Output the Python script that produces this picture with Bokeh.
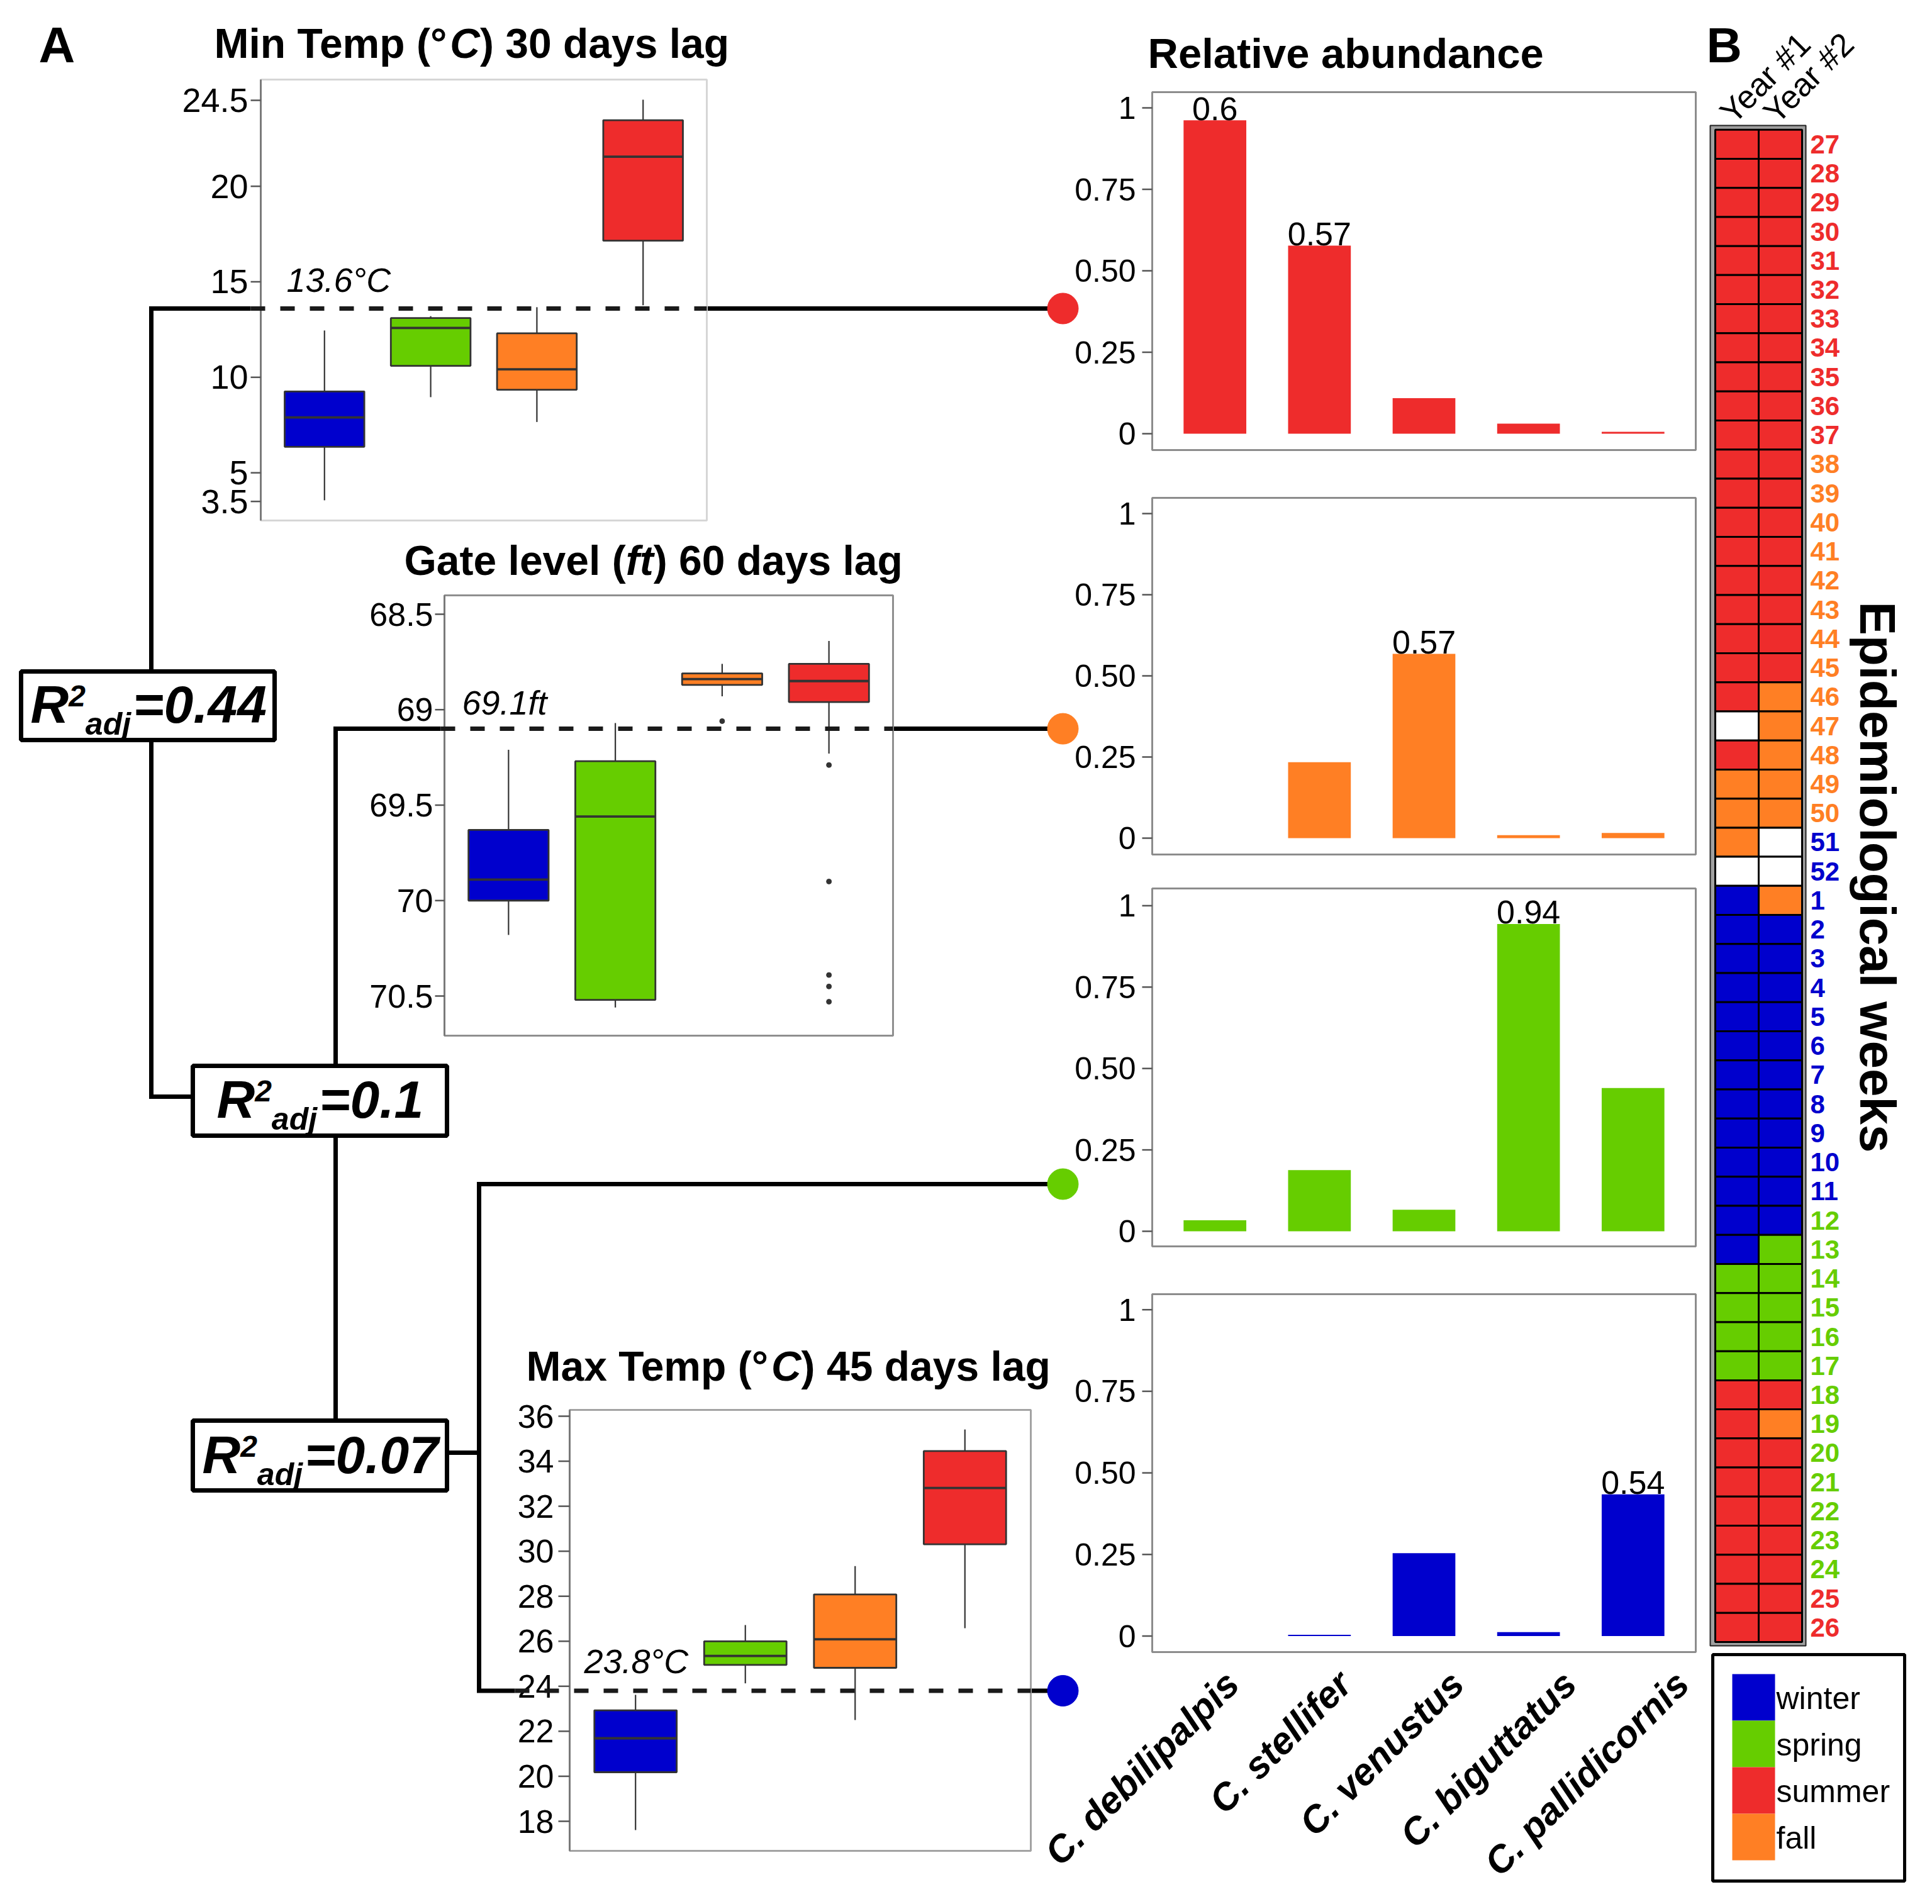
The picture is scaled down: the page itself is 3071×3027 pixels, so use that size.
import math
from bokeh.plotting import figure
from bokeh.models import Range1d
from bokeh.core.properties import value
from bokeh.embed import file_html
from bokeh.resources import INLINE

# ------------------------------------------------------------------ data
seasons = ["winter", "spring", "summer", "fall"]
season_colors = {"winter": "#0000CD", "spring": "#66CD00", "summer": "#EE2C2C",
                 "fall": "#FF7F24", "none": "#FFFFFF"}

box_seasons = ["winter", "spring", "fall", "summer"]
box_cats = [1, 2, 3, 4]

# Min Temp (C) 30 days lag
mint_low = [3.56, 8.96, 7.66, 13.77]
mint_q1 = [6.36, 10.6, 9.35, 17.15]
mint_med = [7.9, 12.58, 10.42, 21.55]
mint_q3 = [9.26, 13.1, 12.3, 23.46]
mint_up = [12.45, 13.2, 13.67, 24.53]
mint_ticks = [3.5, 5, 10, 15, 20, 24.5]
mint_tick_labels = ["3.5", "5", "10", "15", "20", "24.5"]
mint_split = 13.6

# Gate level (ft) 60 days lag (axis reversed)
gate_min = [69.21, 69.07, 68.76, 68.64]
gate_q1 = [69.63, 69.27, 68.81, 68.76]
gate_med = [69.89, 69.56, 68.84, 68.85]
gate_q3 = [70.0, 70.52, 68.87, 68.96]
gate_max = [70.18, 70.56, 68.93, 69.23]
gate_out_cat = [3, 4, 4, 4, 4, 4]
gate_out_val = [69.06, 69.29, 69.9, 70.39, 70.45, 70.53]
gate_ticks = [68.5, 69, 69.5, 70, 70.5]
gate_tick_labels = ["68.5", "69", "69.5", "70", "70.5"]
gate_split = 69.1

# Max Temp (C) 45 days lag
maxt_low = [17.61, 24.13, 22.5, 26.58]
maxt_q1 = [20.18, 24.95, 24.82, 30.31]
maxt_med = [21.69, 25.35, 26.09, 32.81]
maxt_q3 = [22.93, 26.0, 28.08, 34.45]
maxt_up = [23.62, 26.72, 29.34, 35.41]
maxt_ticks = [18, 20, 22, 24, 26, 28, 30, 32, 34, 36]
maxt_tick_labels = [str(t) for t in maxt_ticks]
maxt_split = 23.8

r2_values = ["0.44", "0.1", "0.07"]

# Relative abundance
species = ["C. debilipalpis", "C. stellifer", "C. venustus", "C. biguttatus", "C. pallidicornis"]
species_pos = [1, 2, 3, 4, 5]
abund_summer = [0.962, 0.577, 0.109, 0.031, 0.006]
abund_fall = [0.0, 0.234, 0.568, 0.009, 0.016]
abund_spring = [0.034, 0.188, 0.066, 0.944, 0.44]
abund_winter = [0.0, 0.004, 0.254, 0.012, 0.434]
abund_panel_season = ["summer", "fall", "spring", "winter"]
abund_ticks = [0, 0.25, 0.5, 0.75, 1]
abund_tick_labels = ["0", "0.25", "0.50", "0.75", "1"]
top_label_text = ["0.6", "0.57", "0.57", "0.94", "0.54"]
top_label_cat = [1, 2, 3, 4, 5]
top_label_panel = [0, 0, 1, 2, 3]

# Epidemiological weeks heatmap
years = ["Year #1", "Year #2"]
weeks = list(range(27, 53)) + list(range(1, 27))
week_label_season = (["summer"] * 11 + ["fall"] * 13 + ["winter"] * 2 +
                     ["winter"] * 11 + ["spring"] * 13 + ["summer"] * 2)
year1 = (["summer"] * 20 + ["none"] + ["summer"] + ["fall"] * 3 + ["none"] +
         ["winter"] * 13 + ["spring"] * 4 + ["summer"] * 9)
year2 = (["summer"] * 19 + ["fall"] * 5 + ["none"] * 2 + ["fall"] +
         ["winter"] * 11 + ["spring"] * 5 + ["summer"] + ["fall"] + ["summer"] * 7)

# ------------------------------------------------------------------ layout
FW, FH = 3055, 3011                 # figure size in screen px
X0, Y0 = 0, 0                       # canvas units == screenshot px
X1, Y1 = X0 + FW, Y0 + FH
FONT = "Liberation Sans"
MID = 0.36                          # baseline -> middle offset (em)

def lin(p0, p1, v0, v1):
    s = (v1 - v0) / (p1 - p0)
    return (lambda q: v0 + (q - p0) * s), (lambda v: p0 + (v - v0) / s)

def xrange_(p0, p1, v0, v1):
    f, _ = lin(p0, p1, v0, v1)
    return Range1d(start=f(X0), end=f(X1))

def yrange_(p0, p1, v0, v1):
    f, _ = lin(p0, p1, v0, v1)
    return Range1d(start=f(Y1), end=f(Y0))

p = figure(width=FW, height=FH, x_range=Range1d(X0, X1), y_range=Range1d(Y1, Y0),
           output_backend="svg", toolbar_location=None, min_border=0,
           x_axis_location=None, y_axis_location=None, outline_line_color=None,
           background_fill_color="white", border_fill_color="white")
p.grid.visible = False

# panel geometry (screen px)
MT = dict(x=(414, 1123), y=(126, 827), xv=(0.4, 4.6), yp=(159, 796.7), yv=(24.5, 3.5))
GL = dict(x=(706, 1419), y=(946, 1646), xv=(0.4, 4.6), yp=(976, 1583), yv=(68.5, 70.5))
XT = dict(x=(905, 1638), y=(2241, 2942), xv=(0.4, 4.6), yp=(2251, 2895), yv=(36, 18))
BX = (1831, 2695)
BARS = [dict(y=(146, 715), yp=(171, 689)), dict(y=(791, 1358), yp=(816, 1332)),
        dict(y=(1412, 1981), yp=(1439.4, 1957)), dict(y=(2057, 2626), yp=(2081.7, 2600.5))]
HM_X = (2760.5, 2829.5)
HM_Y = (228.8, 2586.9)

p.extra_x_ranges = {
    "mt": xrange_(MT["x"][0], MT["x"][1], *MT["xv"]),
    "gl": xrange_(GL["x"][0], GL["x"][1], *GL["xv"]),
    "xt": xrange_(XT["x"][0], XT["x"][1], *XT["xv"]),
    "bar": xrange_(BX[0], BX[1], 0.4, 5.6),
    "hm": xrange_(HM_X[0], HM_X[1], 1, 2),
}
p.extra_y_ranges = {
    "mt": yrange_(MT["yp"][0], MT["yp"][1], *MT["yv"]),
    "gl": yrange_(GL["yp"][0], GL["yp"][1], *GL["yv"]),
    "xt": yrange_(XT["yp"][0], XT["yp"][1], *XT["yv"]),
    "hm": yrange_(HM_Y[0], HM_Y[1], 0, 51),
}
for i, b in enumerate(BARS):
    p.extra_y_ranges["b%d" % i] = yrange_(b["yp"][0], b["yp"][1], 1, 0)

_, mt_px = lin(MT["yp"][0], MT["yp"][1], *MT["yv"])
_, gl_px = lin(GL["yp"][0], GL["yp"][1], *GL["yv"])
_, xt_px = lin(XT["yp"][0], XT["yp"][1], *XT["yv"])

def txt(x, y, s, size, style="normal", color="black", align="left", baseline="middle",
        angle=0.0, xr="default", yr="default"):
    if not isinstance(x, list):
        x, y, s = [x], [y], [s]
    p.text(x=x, y=y, text=s, x_range_name=xr, y_range_name=yr,
           text_font=value(FONT), text_font_size=value("%dpx" % size),
           text_font_style=style, text_color=color, text_align=align,
           text_baseline=baseline, angle=angle)

def txt_base(x, base, s, size, style="normal", **kw):
    """text placed by its alphabetic baseline (canvas px)"""
    txt(x, base - MID * size, s, size, style, **kw)

WID = {' ': .278, '(': .333, ')': .333, '°': .4, '=': .584, '.': .278, '#': .556,
       'A': .722, 'C': .722, 'G': .778, 'M': .833, 'R': .722, 'T': .611,
       'a': .556, 'd': .611, 'e': .556, 'f': .333, 'g': .611, 'i': .278, 'j': .278,
       'l': .278, 'm': .889, 'n': .611, 'p': .611, 's': .556, 't': .333, 'v': .556,
       'x': .556, 'y': .556, 'r': .389, 'u': .611, 'b': .611, 'o': .611, 'c': .556}

def rich(x0, base, pieces):
    x = x0
    for t, st, sz, dy in pieces:
        txt_base(x, base + dy, t, sz, st)
        x += sum(WID.get(c, .556) for c in t) * sz

# ------------------------------------------------------------------ tree connectors
yR, yO, yB, yG = mt_px(mint_split), gl_px(gate_split), xt_px(maxt_split), 1882
NODE_X = 1689
p.multi_line(xs=[[398, 240, 240, 306], [1123, NODE_X], [700, 533, 533], [1419, NODE_X],
                 [709, 761], [NODE_X, 761, 761, 818], [1638, NODE_X]],
             ys=[[yR, yR, 1743, 1743], [yR, yR], [yO, yO, 2258], [yO, yO],
                 [2309, 2309], [yG, yG, yB, yB], [yB, yB]],
             line_width=7, line_color="black", line_join="miter")

# ------------------------------------------------------------------ box plot panels
def box_panel(P, rn, low, q1, med, q3, up, ticks, tick_labels, tick_size, lab_right,
              tick_x0, frame_color):
    p.quad(left=[P["x"][0]], right=[P["x"][1]], top=[P["y"][0]], bottom=[P["y"][1]],
           fill_color="white", line_color=frame_color, line_width=3)
    p.segment(x0=[P["x"][0]], x1=[P["x"][0]], y0=[P["y"][0]], y1=[P["y"][1]],
              line_color="#7a7a7a", line_width=3)
    p.segment(x0=[tick_x0] * len(ticks), x1=[P["x"][0]] * len(ticks), y0=ticks, y1=ticks,
              y_range_name=rn, line_color="#555555", line_width=2.5)
    txt([lab_right] * len(ticks), list(ticks), list(tick_labels), tick_size,
        align="right", yr=rn)
    cols = [season_colors[s] for s in box_seasons]
    p.segment(x0=box_cats, x1=box_cats, y0=low, y1=q1, x_range_name=rn, y_range_name=rn,
              line_color="#333333", line_width=2.2)
    p.segment(x0=box_cats, x1=box_cats, y0=q3, y1=up, x_range_name=rn, y_range_name=rn,
              line_color="#333333", line_width=2.2)
    p.vbar(x=box_cats, bottom=q1, top=q3, width=0.75, fill_color=cols,
           line_color="#333333", line_width=2.8, x_range_name=rn, y_range_name=rn)
    p.segment(x0=[c - 0.375 for c in box_cats], x1=[c + 0.375 for c in box_cats],
              y0=med, y1=med, x_range_name=rn, y_range_name=rn,
              line_color="#333333", line_width=3.8)

box_panel(MT, "mt", mint_low, mint_q1, mint_med, mint_q3, mint_up,
          mint_ticks, mint_tick_labels, 54, 394, 398, "#d6d6d6")
box_panel(GL, "gl", gate_min, gate_q1, gate_med, gate_q3, gate_max,
          gate_ticks, gate_tick_labels, 52, 688, 691, "#8f8f8f")
p.scatter(x=gate_out_cat, y=gate_out_val, size=8, color="#333333",
          x_range_name="gl", y_range_name="gl")
box_panel(XT, "xt", maxt_low, maxt_q1, maxt_med, maxt_q3, maxt_up,
          maxt_ticks, maxt_tick_labels, 52, 880, 887, "#a3a3a3")

# dashed split lines
DASH = "23 24"
p.segment(x0=[398], x1=[1123], y0=[mint_split], y1=[mint_split], y_range_name="mt",
          line_width=7, line_color="#1a1a1a", line_dash=DASH)
p.segment(x0=[700], x1=[1419], y0=[gate_split], y1=[gate_split], y_range_name="gl",
          line_width=7, line_color="#1a1a1a", line_dash=DASH)
p.segment(x0=[818], x1=[1638], y0=[maxt_split], y1=[maxt_split], y_range_name="xt",
          line_width=7, line_color="#1a1a1a", line_dash=DASH)

txt(455, yR - 45, "%.1f°C" % mint_split, 54, "italic")
txt(734, yO - 42, "%.1fft" % gate_split, 54, "italic")
txt(928, yB - 47, "%.1f°C" % maxt_split, 54, "italic")

# panel titles
rich(340, 92, [("Min Temp (°", "bold", 66, 0), ("C", "bold italic", 66, 0), (") 30 days lag", "bold", 66, 0)])
rich(642, 914, [("Gate level (", "bold", 66, 0), ("ft", "bold italic", 66, 0), (") 60 days lag", "bold", 66, 0)])
rich(836, 2195, [("Max Temp (°", "bold", 66, 0), ("C", "bold italic", 66, 0), (") 45 days lag", "bold", 66, 0)])
txt_base(1824, 108, "Relative abundance", 67, "bold")
txt_base(61, 100, "A", 80, "bold")
txt_base(2712, 100, "B", 78, "bold")

# R2 boxes
R2_BOX = [(33, 436, 1067, 1176, 48, 1150), (306, 710, 1694, 1805, 344, 1778),
          (306, 710, 2258, 2369, 321, 2343)]
p.quad(left=[b[0] for b in R2_BOX], right=[b[1] for b in R2_BOX],
       top=[b[2] for b in R2_BOX], bottom=[b[3] for b in R2_BOX],
       fill_color="white", line_color="black", line_width=7)
for b, v in zip(R2_BOX, r2_values):
    rich(b[4], b[5], [("R", "bold italic", 84, 0), ("2", "bold italic", 48, -27),
                      ("adj", "bold italic", 50, 18), (" ", "bold italic", 12, 0),
                      ("=" + v, "bold italic", 84, 0)])

# ------------------------------------------------------------------ bar panels
abund = {"summer": abund_summer, "fall": abund_fall, "spring": abund_spring, "winter": abund_winter}
for i, (b, s) in enumerate(zip(BARS, abund_panel_season)):
    rn = "b%d" % i
    p.quad(left=[BX[0]], right=[BX[1]], top=[b["y"][0]], bottom=[b["y"][1]],
           fill_color="white", line_color="#8c8c8c", line_width=3)
    p.segment(x0=[1815] * 5, x1=[BX[0]] * 5, y0=abund_ticks, y1=abund_ticks,
              y_range_name=rn, line_color="#555555", line_width=2.5)
    txt([1805] * 5, list(abund_ticks), list(abund_tick_labels), 50, align="right", yr=rn)
    p.vbar(x=species_pos, top=abund[s], bottom=0, width=0.6, fill_color=season_colors[s],
           line_color=None, x_range_name="bar", y_range_name=rn)
for t, c, k in zip(top_label_text, top_label_cat, top_label_panel):
    txt(c, abund[abund_panel_season[k]][c - 1] + 0.036, t, 52, align="center",
        xr="bar", yr="b%d" % k)
txt([c + 0.024 + 0.076 * (c - 1) for c in species_pos], [-0.082] * 5, list(species), 60,
    "bold italic", align="right", baseline="top", angle=math.pi / 4, xr="bar", yr="b3")

# split-node dots
p.scatter(x=[NODE_X], y=[mint_split], size=49, color=season_colors["summer"], y_range_name="mt")
p.scatter(x=[NODE_X], y=[gate_split], size=49, color=season_colors["fall"], y_range_name="gl")
p.scatter(x=[NODE_X], y=[yG], size=49, color=season_colors["spring"])
p.scatter(x=[NODE_X], y=[maxt_split], size=49, color=season_colors["winter"], y_range_name="xt")

# ------------------------------------------------------------------ heatmap B
p.quad(left=[2718], right=[2870], top=[199], bottom=[2616], fill_color="#a0a0a0",
       line_color="#222222", line_width=2)
rows = list(range(len(weeks)))
p.rect(x=[1] * len(rows) + [2] * len(rows), y=rows + rows, width=1, height=1,
       fill_color=[season_colors[s] for s in year1 + year2], line_color="black",
       line_width=3, x_range_name="hm", y_range_name="hm")
p.text(x=[2877] * len(rows), y=rows, text=[str(w) for w in weeks], y_range_name="hm",
       text_font=value(FONT), text_font_size=value("42px"), text_font_style="bold",
       text_color=[season_colors[s] for s in week_label_season], text_align="left",
       text_baseline="middle")
txt([0.74, 1.74], [186, 186], list(years), 52, align="left", angle=math.pi / 4, xr="hm")
txt(2984, 1394, "Epidemiological weeks", 80, "bold", align="center", angle=-math.pi / 2)

# legend
p.quad(left=[2722], right=[3027], top=[2630], bottom=[2990], fill_color="white",
       line_color="black", line_width=5)
sw_top = [2661 + 74 * k for k in range(len(seasons))]
p.quad(left=[2753] * 4, right=[2821] * 4, top=sw_top, bottom=[t + 74 for t in sw_top],
       fill_color=[season_colors[s] for s in seasons], line_color=None)
txt([2823] * 4, [t + 38 for t in sw_top], list(seasons), 50)

open("out.html", "w").write(file_html(p, INLINE))
